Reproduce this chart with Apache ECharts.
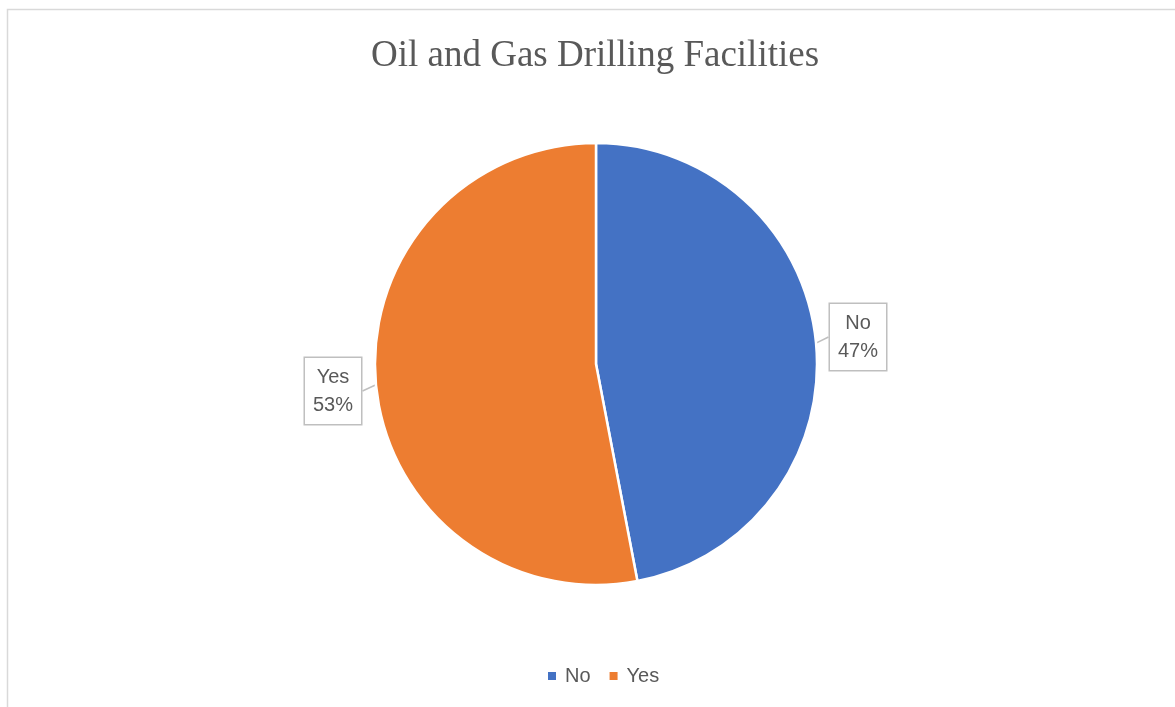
<!DOCTYPE html>
<html><head><meta charset="utf-8">
<script src="https://cdn.jsdelivr.net/npm/echarts@6/dist/echarts.min.js"></script>
<style>html,body{margin:0;padding:0;background:#fff}#c{width:1175px;height:707px}</style>
</head><body><div id="c"></div>
<script>
const categories = ['No', 'Yes'];
const values = [47, 53];
const colors = ['#4472C4', '#ED7D31'];

const chart = echarts.init(document.getElementById('c'));
const total = values.reduce((a, b) => a + b, 0);
chart.setOption({
  backgroundColor: '#fff',
  animation: false,
  title: {
    text: 'Oil and Gas Drilling Facilities',
    left: 366, top: 33,
    textStyle: { fontFamily: 'Liberation Serif', fontSize: 37, fontWeight: 'normal', color: '#595959' }
  },
  graphic: [{
    type: 'rect', shape: { x: 7.5, y: 9.5, width: 1300, height: 800 },
    style: { fill: 'none', stroke: '#d9d9d9', lineWidth: 1.5 }, silent: true
  }],
  legend: {
    bottom: 16, left: 541, icon: 'rect', itemWidth: 10, itemHeight: 10, itemGap: 17,
    textStyle: { fontFamily: 'Liberation Sans', fontSize: 20, color: '#595959', padding: [0, 0, 0, 3] },
    data: categories
  },
  series: [{
    type: 'pie',
    center: [596, 364], radius: 221,
    startAngle: 90, clockwise: true,
    itemStyle: { borderColor: '#fff', borderWidth: 2.5 },
    label: {
      show: true, position: 'outside',
      formatter: p => p.name + '\n' + Math.round(p.value / total * 100) + '%',
      fontFamily: 'Liberation Sans', fontSize: 20, color: '#595959', lineHeight: 28,
      backgroundColor: '#fff', borderColor: '#bfbfbf', borderWidth: 1.5,
      padding: [5, 8, 5, 8], align: 'center'
    },
    labelLine: { show: true, length: 10, length2: 0, lineStyle: { color: '#bfbfbf', width: 1.5 } },
    labelLayout: function (params) {
      if (params.dataIndex === 0) return { x: 858, y: 337, align: 'center', verticalAlign: 'middle' };
      return { x: 333, y: 391, align: 'center', verticalAlign: 'middle' };
    },
    emphasis: { disabled: true },
    data: categories.map((c, i) => ({ name: c, value: values[i], itemStyle: { color: colors[i] } }))
  }]
});
</script></body></html>
